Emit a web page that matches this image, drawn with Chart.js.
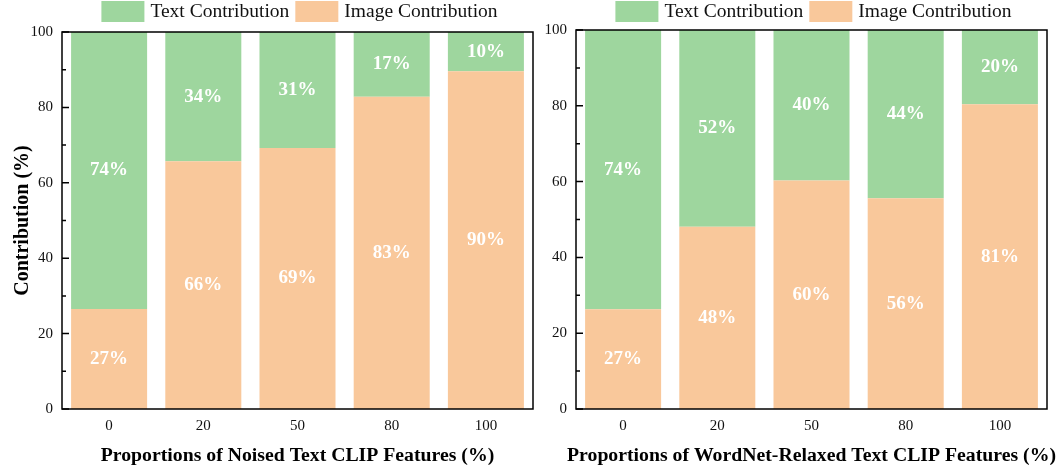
<!DOCTYPE html>
<html><head><meta charset="utf-8">
<script src="https://cdn.jsdelivr.net/npm/chart.js@4.4.0/dist/chart.umd.min.js"></script>
<style>
html,body{margin:0;padding:0;background:#fff;}
#wrap{position:relative;width:1060px;height:467px;overflow:hidden;}
.box{position:absolute;top:0;height:467px;}
</style></head><body>
<div id="wrap">
<div class="box" style="left:0;width:545px"><canvas id="c1"></canvas></div>
<div class="box" style="left:545px;width:515px"><canvas id="c2"></canvas></div>
</div>
<script>
const categories = ['0', '20', '50', '80', '100'];
const yMajorTicks = [0, 20, 40, 60, 80, 100];
const yMinorTicks = [10, 30, 50, 70, 90];
const imageName = 'Image Contribution';
const textName = 'Text Contribution';
const leftImage = [26.5, 65.7, 69.2, 82.8, 89.6];
const leftText = [73.5, 34.3, 30.8, 17.2, 10.4];
const leftImageLabels = ['27%', '66%', '69%', '83%', '90%'];
const leftTextLabels = ['74%', '34%', '31%', '17%', '10%'];
const rightImage = [26.3, 48.1, 60.3, 55.6, 80.4];
const rightText = [73.7, 51.9, 39.7, 44.4, 19.6];
const rightImageLabels = ['27%', '48%', '60%', '56%', '81%'];
const rightTextLabels = ['74%', '52%', '40%', '44%', '20%'];
const leftXTitle = 'Proportions of Noised Text CLIP Features (%)';
const rightXTitle = 'Proportions of WordNet-Relaxed Text CLIP Features (%)';
const yTitle = 'Contribution (%)';

const GREEN = '#9ed69e';
const ORANGE = '#f9c89b';
const FONT = '"Liberation Serif", "Times New Roman", Times, serif';

function makePlugin(xTitle, labelSets) {
  return {
    id: 'decor',
    afterDatasetsDraw(chart) {
      const ctx = chart.ctx;
      ctx.save();
      ctx.fillStyle = '#ffffff';
      ctx.font = 'bold 19px ' + FONT;
      ctx.textAlign = 'center';
      ctx.textBaseline = 'middle';
      chart.data.datasets.forEach((ds, di) => {
        const meta = chart.getDatasetMeta(di);
        meta.data.forEach((el, i) => {
          const cy = (el.y + el.base) / 2;
          ctx.fillText(labelSets[di][i], el.x, cy);
        });
      });
      ctx.restore();
    },
    afterDraw(chart) {
      const ctx = chart.ctx;
      const a = chart.chartArea;
      const ys = chart.scales.y;
      ctx.save();
      ctx.strokeStyle = '#000';
      ctx.lineWidth = 1.5;
      ctx.beginPath();
      yMajorTicks.forEach(v => {
        const p = ys.getPixelForValue(v);
        ctx.moveTo(a.left, p); ctx.lineTo(a.left + 7, p);
      });
      yMinorTicks.forEach(v => {
        const p = ys.getPixelForValue(v);
        ctx.moveTo(a.left, p); ctx.lineTo(a.left + 4, p);
      });
      ctx.stroke();
      ctx.strokeRect(a.left, a.top, a.right - a.left, a.bottom - a.top);
      ctx.font = '19.5px ' + FONT;
      ctx.textBaseline = 'middle';
      ctx.textAlign = 'left';
      const items = chart.data.datasets.slice().reverse();
      const boxW = 43, boxH = 21, gap = 6;
      let total = 0;
      items.forEach((ds, i) => {
        total += boxW + gap + ctx.measureText(ds.label).width + (i < items.length - 1 ? gap : 0);
      });
      let x = (a.left + a.right) / 2 + 2 - total / 2;
      items.forEach(ds => {
        ctx.fillStyle = ds.backgroundColor;
        ctx.fillRect(x, 1, boxW, boxH);
        x += boxW + gap;
        ctx.fillStyle = '#111';
        ctx.fillText(ds.label, x, 12);
        x += ctx.measureText(ds.label).width + gap;
      });
      ctx.font = 'bold 19.75px ' + FONT;
      ctx.textAlign = 'center';
      ctx.fillStyle = '#000';
      ctx.fillText(xTitle, (a.left + a.right) / 2, 455.5);
      ctx.restore();
    }
  };
}

function makeChart(id, imgVals, txtVals, imgLabels, txtLabels, xTitle, showYTitle, axisWidth, topPad, rightPad) {
  return new Chart(document.getElementById(id), {
    type: 'bar',
    data: {
      labels: categories,
      datasets: [
        { label: imageName, data: imgVals, backgroundColor: ORANGE, borderWidth: 0,
          categoryPercentage: 1, barPercentage: 0.807 },
        { label: textName, data: txtVals, backgroundColor: GREEN, borderWidth: 0,
          categoryPercentage: 1, barPercentage: 0.807 }
      ]
    },
    options: {
      responsive: true,
      maintainAspectRatio: false,
      animation: false,
      events: [],
      layout: { padding: { left: 0, right: rightPad, top: topPad, bottom: 0 } },
      plugins: { legend: { display: false }, tooltip: { enabled: false } },
      scales: {
        x: {
          stacked: true,
          grid: { display: false, drawTicks: false },
          border: { display: false },
          ticks: { color: '#111', font: { family: FONT, size: 15 }, padding: 8 },
          afterFit: s => { s.height = 58; }
        },
        y: {
          stacked: true,
          min: 0, max: 100,
          grid: { display: false, drawTicks: false },
          border: { display: false },
          ticks: { color: '#111', font: { family: FONT, size: 15 }, padding: 9 },
          afterBuildTicks: s => { s.ticks = yMajorTicks.map(v => ({ value: v })); },
          title: { display: showYTitle, text: yTitle, color: '#000',
                   font: { family: FONT, size: 20, weight: 'bold' }, padding: { top: 11, bottom: 0 } },
          afterFit: s => { s.width = axisWidth; }
        }
      }
    },
    plugins: [makePlugin(xTitle, [imgLabels, txtLabels])]
  });
}

makeChart('c1', leftImage, leftText, leftImageLabels, leftTextLabels, leftXTitle, true, 62, 32, 12);
makeChart('c2', rightImage, rightText, rightImageLabels, rightTextLabels, rightXTitle, false, 31, 30, 13);
</script>
</body></html>
